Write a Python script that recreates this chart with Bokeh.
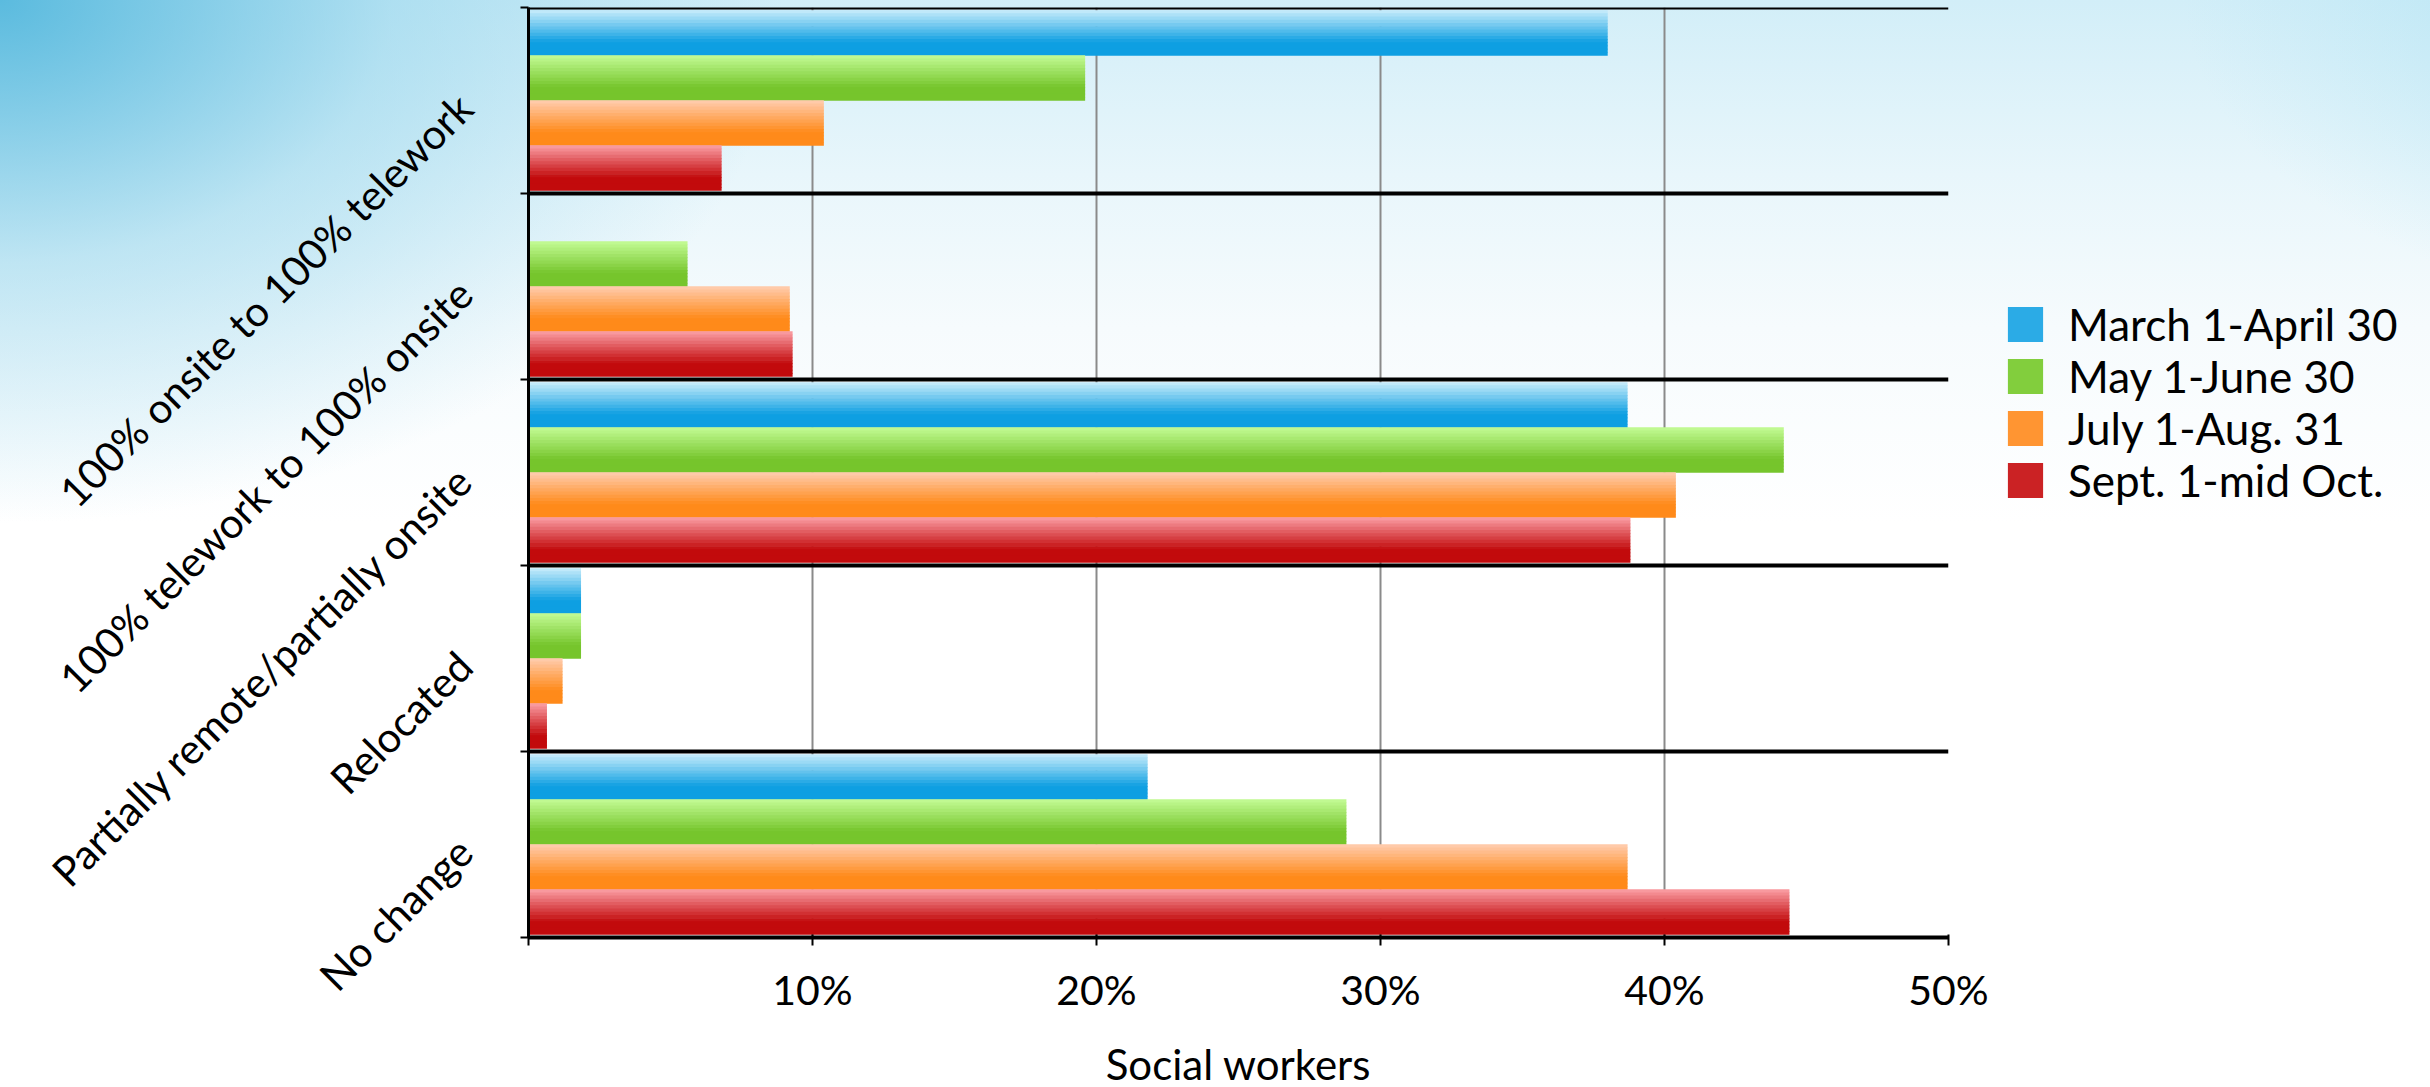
import math
import numpy as np
from bokeh.plotting import figure
from bokeh.models import (Range1d, FixedTicker, ColumnDataSource,
                          Legend, LegendItem, LinearAxis)
from bokeh.transform import dodge
from bokeh.embed import file_html
from bokeh.resources import INLINE

# ---------------- data ----------------
categories = ["100% onsite to 100% telework",
              "100% telework to 100% onsite",
              "Partially remote/partially onsite",
              "Relocated",
              "No change"]
series_names = ["March 1-April 30", "May 1-June 30", "July 1-Aug. 31", "Sept. 1-mid Oct."]
march_april = [38.0, 0.0, 38.7, 1.85, 21.8]
may_june = [19.6, 5.6, 44.2, 1.85, 28.8]
july_aug = [10.4, 9.2, 40.4, 1.2, 38.7]
sept_oct = [6.8, 9.3, 38.8, 0.65, 44.4]
x_ticks = [0, 10, 20, 30, 40, 50]
x_tick_labels = ["", "10%", "20%", "30%", "40%", "50%"]
x_title = "Social workers"

# ---------------- style ----------------
FONT = "Lato"
top_colors = ["#c9edfb", "#c4fc96", "#ffcdb0", "#fba0a6"]
bot_colors = ["#0e9fe2", "#76c52c", "#ff8a1a", "#c20a0c"]
offsets = [0.363, 0.121, -0.121, -0.363]
BAR_H = 0.242
N_STRIPS = 14

W, H = 2412, 1070
FRAME_W, FRAME_H = 1420, 930
B_LEFT, B_TOP = 528, 7
B_RIGHT = W - B_LEFT - FRAME_W
B_BOTTOM = H - B_TOP - FRAME_H


def hex2rgb(h):
    h = h.lstrip("#")
    return np.array([int(h[i:i + 2], 16) for i in (0, 2, 4)], dtype=float)


def mix(c1, c2, t):
    c = hex2rgb(c1) * (1 - t) + hex2rgb(c2) * t
    return "#%02x%02x%02x" % tuple(int(round(v)) for v in c)


n_cat = len(categories)
# category centres on a numeric scale, first category at the top
cat_pos = [n_cat - 0.5 - i for i in range(n_cat)]

p = figure(frame_width=FRAME_W, frame_height=FRAME_H,
           y_range=Range1d(0, n_cat),
           x_range=Range1d(x_ticks[0], x_ticks[-1]),
           output_backend="svg", toolbar_location=None,
           min_border_left=B_LEFT, min_border_right=B_RIGHT,
           min_border_top=B_TOP, min_border_bottom=B_BOTTOM)

p.border_fill_alpha = 0
p.background_fill_alpha = 0
p.outline_line_color = None
p.styles = {
    "background": (
        "radial-gradient(ellipse 28% 48% at 0% 0%, rgba(70,178,218,0.85) 0%, rgba(130,205,232,0.45) 50%, rgba(255,255,255,0) 100%), "
        "radial-gradient(ellipse 22% 30% at 100% 0%, rgba(150,218,240,0.6) 0%, rgba(255,255,255,0) 100%), "
        "linear-gradient(180deg, #d2eef8 0%, #e8f6fb 16%, #f6fbfd 30%, #ffffff 48%)"
    )
}

source = ColumnDataSource(dict(cat=categories, pos=cat_pos, s0=march_april, s1=may_june,
                               s2=july_aug, s3=sept_oct))

legend_renderers = []
for s in range(4):
    strip_h = BAR_H / N_STRIPS
    chosen = None
    for k in range(N_STRIPS):
        t = (k + 0.5) / N_STRIPS
        tt = min(1.0, t / 0.72)
        color = mix(top_colors[s], bot_colors[s], tt)
        off = offsets[s] + BAR_H / 2 - (k + 0.5) * strip_h
        r = p.hbar(y=dodge("pos", off), left=0, right="s%d" % s,
                   height=strip_h * 1.2, source=source,
                   fill_color=color, line_color=None)
        if k == int(N_STRIPS * 0.6):
            chosen = r
    legend_renderers.append(chosen)

# category boundary lines
p.segment(x0=x_ticks[0], x1=x_ticks[-1],
          y0=dodge("pos", 0.5), y1=dodge("pos", 0.5),
          source=source, line_color="black", line_width=4)

# grid
p.ygrid.grid_line_color = None
p.xgrid.ticker = FixedTicker(ticks=x_ticks[1:])
p.xgrid.grid_line_color = "#8a8a8a"
p.xgrid.grid_line_width = 2

# x axis
xa = p.xaxis[0]
xa.ticker = FixedTicker(ticks=x_ticks)
xa.major_label_overrides = {t: l for t, l in zip(x_ticks, x_tick_labels)}
xa.axis_line_color = "black"
xa.axis_line_width = 4
xa.major_tick_line_color = "black"
xa.major_tick_line_width = 2
xa.major_tick_out = 8
xa.major_tick_in = 3
xa.minor_tick_line_color = None
xa.major_label_text_font = FONT
xa.major_label_text_font_size = "41px"
xa.major_label_text_color = "black"
xa.major_label_standoff = 19
xa.axis_label = x_title
xa.axis_label_text_font = FONT
xa.axis_label_text_font_size = "42px"
xa.axis_label_text_font_style = "normal"
xa.axis_label_text_color = "black"
xa.axis_label_standoff = 22

# y axis 1 (next to the frame): ticks at the category boundaries, no labels
bounds = list(range(n_cat + 1))
ya = p.yaxis[0]
ya.ticker = FixedTicker(ticks=bounds)
ya.major_label_overrides = {b: "" for b in bounds}
ya.axis_line_color = "black"
ya.axis_line_width = 3
ya.major_tick_line_color = "black"
ya.major_tick_line_width = 2
ya.major_tick_out = 8
ya.major_tick_in = 0
ya.minor_tick_line_color = None
ya.major_label_standoff = 0

# y axis 2: category names at the category centres
label_axis = LinearAxis(ticker=FixedTicker(ticks=cat_pos),
                        major_label_overrides={pp: c for pp, c in zip(cat_pos, categories)},
                        axis_line_color=None, major_tick_line_color=None,
                        minor_tick_line_color=None,
                        major_label_orientation=math.pi / 4,
                        major_label_text_font=FONT,
                        major_label_text_font_size="41.5px",
                        major_label_text_color="black",
                        major_label_standoff=50)
p.add_layout(label_axis, "left")

legend = Legend(items=[LegendItem(label=n, renderers=[r]) for n, r in zip(series_names, legend_renderers)],
                location=(55, 431), glyph_width=44, glyph_height=44,
                label_text_font=FONT, label_text_font_size="44px",
                label_text_color="black", label_standoff=21, spacing=0,
                padding=0, margin=0, border_line_color=None,
                background_fill_alpha=0)
p.add_layout(legend, "right")

open("out.html", "w").write(file_html(p, INLINE))
